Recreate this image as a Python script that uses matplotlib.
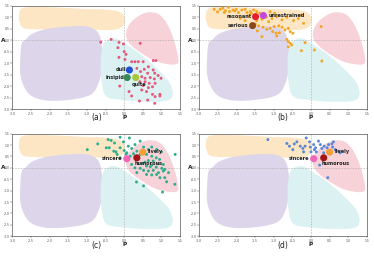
import numpy as np
import matplotlib
matplotlib.use("Agg")
import matplotlib.pyplot as plt
from matplotlib.patches import Polygon

# ---------------- blob outlines (data units) ----------------
orange_blob = [(-2.79, 1.31), (-2.62, 1.43), (-1.99, 1.43), (-1.09, 1.36), (-0.38, 1.31),
               (-0.07, 1.17), (0.02, 0.88), (-0.07, 0.56), (-0.38, 0.44), (-1.09, 0.47),
               (-1.99, 0.47), (-2.66, 0.51), (-2.81, 0.80), (-2.82, 1.09)]
purple_blob = [(-2.66, 0.0), (-2.44, 0.30), (-1.99, 0.51), (-1.27, 0.61), (-0.92, 0.56),
               (-0.69, 0.30), (-0.60, -0.29), (-0.60, -1.16), (-0.69, -1.88), (-0.92, -2.39),
               (-1.54, -2.61), (-2.17, -2.61), (-2.57, -2.32), (-2.78, -1.59), (-2.79, -0.72),
               (-2.75, -0.14)]
pink_blob = [(0.05, 0.30), (0.16, 0.73), (0.43, 1.09), (0.69, 1.21), (0.96, 1.09),
             (1.19, 0.59), (1.36, -0.14), (1.45, -0.79), (1.41, -1.04), (1.14, -1.04),
             (0.78, -0.87), (0.34, -0.43), (0.11, -0.07)]
cyan_blob = [(-0.51, -0.07), (-0.25, 0.08), (0.07, -0.21), (0.52, -0.72), (0.96, -1.37),
             (1.23, -1.88), (1.30, -2.39), (1.14, -2.64), (0.60, -2.68), (-0.02, -2.61),
             (-0.47, -2.46), (-0.60, -1.88), (-0.63, -1.01), (-0.60, -0.43)]

# ---------------- scatter data ----------------
a_x = [-0.63, -0.35, -0.14, -0.02, -0.17, 0.43, 0.00, 0.05, -0.14, 0.02, 0.20, 0.29, 0.38, 0.51,
       0.78, 0.85, 0.65, 0.34, 0.54, 0.78, 0.44, 0.63, 0.82, 0.91, 0.47, 0.56, 0.70, 0.81, 0.99,
       0.42, 0.56, 0.67, 0.83, 0.51, 0.65, 0.76, 0.47, 0.60, 0.76, 0.83, 0.96, 0.13, -0.12, 0.20,
       0.41, 0.63, 0.82, 0.96, 0.29]
a_y = [-0.09, 0.03, -0.10, -0.17, -0.33, -0.14, -0.50, -0.62, -0.75, -0.84, -0.94, -0.94, -0.94,
       -0.94, -0.89, -0.89, -1.16, -1.23, -1.27, -1.30, -1.37, -1.44, -1.44, -1.54, -1.59, -1.66,
       -1.63, -1.69, -1.66, -1.81, -1.81, -1.88, -1.88, -1.98, -2.07, -2.03, -2.17, -2.24, -2.36,
       -2.46, -2.36, -2.24, -2.00, -2.43, -2.65, -2.61, -2.75, -2.43, -1.54]

b_x = [-2.60, -2.51, -2.44, -2.37, -2.33, -2.22, -2.19, -2.10, -2.01, -1.95, -1.86, -1.77, -1.72,
       -1.63, -1.54, -1.46, -1.38, -1.68, -1.90, -1.77, -1.46, -1.32, -1.20, -1.14, -1.05, -0.98,
       -0.92, -0.78, -0.65, -0.47, -0.34, -0.20, -0.25, -1.50, -1.41, -1.44, -1.29, -1.19, -1.10,
       -0.99, -0.87, -0.78, -1.03, -0.94, -0.85, -0.70, -0.61, -0.56, -0.49, -1.32, -0.92, -0.65,
       -0.61, -0.56, -0.61, -0.52, -0.16, -0.26, 0.09, 0.29, 0.27, -2.30, -2.05, -1.60, -1.10]
b_y = [1.34, 1.23, 1.34, 1.39, 1.20, 1.43, 1.24, 1.31, 1.34, 1.20, 1.31, 1.34, 1.20, 1.24, 1.31,
       1.24, 1.17, 1.05, 0.95, 0.85, 0.85, 0.91, 1.00, 0.80, 0.94, 1.17, 1.02, 0.88, 0.99, 0.85,
       0.94, 0.73, 1.09, 0.70, 0.62, 0.40, 0.56, 0.47, 0.51, 0.59, 0.62, 0.56, 0.37, 0.30, 0.32,
       0.44, 0.51, 0.37, 0.30, 0.15, 0.18, 0.03, -0.07, -0.14, -0.29, -0.21, -0.11, -0.46, -0.43,
       -0.91, 0.59, 1.28, 1.27, 1.16, 1.23]

c_x = [-0.99, -0.71, -0.43, -0.35, -0.40, -0.26, -0.22, -0.11, -0.02, 0.14, 0.43, -0.11, 0.00,
       0.11, 0.20, 0.29, 0.34, 0.52, 0.65, 0.74, 0.87, 1.00, 1.37, 0.07, 0.16, 0.29, 0.43, 0.60,
       0.74, 0.86, 0.95, 0.65, 0.78, 0.92, 1.05, 0.47, 0.60, 0.74, 0.86, 1.01, 1.09, 0.43, 0.52,
       0.65, 0.78, 0.92, 1.05, 1.19, 0.60, 0.74, 0.87, 0.96, 1.09, 0.34, 0.20, 0.29, 1.14, 1.36,
       0.33, 0.52, 1.03, -0.11, -0.19, -0.28, -0.48, 0.05, 0.25, 0.38, 0.56, 0.70]
c_y = [0.80, 1.05, 1.24, 1.20, 0.88, 1.09, 0.70, 1.34, 1.14, 1.31, 1.17, 0.88, 0.76, 0.95, 0.85,
       1.02, 0.73, 0.91, 0.80, 0.91, 0.80, 0.70, 0.59, 0.66, 0.51, 0.51, 0.59, 0.59, 0.51, 0.44,
       0.37, 0.32, 0.30, 0.18, 0.15, 0.18, 0.08, 0.12, 0.03, -0.02, -0.07, -0.02, -0.11, -0.14,
       -0.11, -0.21, -0.14, -0.21, -0.29, -0.31, -0.29, -0.43, -0.43, -0.21, 0.15, 0.00, -0.61,
       -0.72, -0.62, -0.79, -1.06, 0.44, 0.59, 0.73, 0.88, 0.60, 0.62, 0.45, 0.25, 0.05]

d_x = [-1.16, -0.65, -0.58, -0.49, -0.45, -0.38, -0.29, -0.22, -0.20, -0.16, -0.13, -0.04, -0.02,
       0.00, 0.07, 0.09, 0.14, 0.20, 0.25, 0.29, 0.34, 0.43, 0.47, 0.56, 0.58, 0.65, 0.74, 0.78,
       0.60, 0.23, 0.45, 0.12, 0.35]
d_y = [1.24, 1.07, 0.95, 0.80, 1.05, 1.14, 0.95, 0.85, 0.70, 0.95, 1.31, 1.14, 0.91, 0.70, 1.02,
       0.80, 0.70, 1.17, 1.02, 0.85, 0.66, 0.88, 1.02, 1.05, 0.91, 0.80, 0.73, 0.66, 1.14, 0.12,
       -0.43, 0.88, 0.95]

# highlighted words: (label, x, y, color, text x, text y, ha)
a_words = [("dull", 0.14, -1.30, "#1f4fd6", 0.07, -1.30, "right"),
           ("insipid", 0.08, -1.63, "#3a8a55", 0.00, -1.63, "right"),
           ("quite", 0.31, -1.63, "#a8c83a", 0.19, -1.92, "left")]
b_words = [("resonant", -1.49, 1.02, "#e3202a", -1.58, 1.02, "right"),
           ("unrestrained", -1.28, 1.07, "#c048e0", -1.13, 1.09, "left"),
           ("serious", -1.57, 0.63, "#8b4a1c", -1.67, 0.63, "right")]
c_words = [("sincere", 0.07, 0.40, "#f266b8", -0.04, 0.40, "right"),
           ("humorous", 0.34, 0.44, "#a31414", 0.29, 0.21, "left"),
           ("lively", 0.50, 0.69, "#f5a030", 0.63, 0.72, "left")]
d_words = c_words

xticks = [-3.0, -2.5, -2.0, -1.5, -1.0, -0.5, 0.0, 0.5, 1.0, 1.5]
yticks = [-3.0, -2.5, -2.0, -1.5, -1.0, -0.5, 0.0, 0.5, 1.0, 1.5]


def catmull_rom(pts, n=20):
    p = np.asarray(pts, float)
    m = len(p)
    out = []
    for i in range(m):
        p0, p1, p2, p3 = p[(i - 1) % m], p[i], p[(i + 1) % m], p[(i + 2) % m]
        for t in np.linspace(0, 1, n, endpoint=False):
            t2, t3 = t * t, t * t * t
            out.append(0.5 * ((2 * p1) + (-p0 + p2) * t + (2 * p0 - 5 * p1 + 4 * p2 - p3) * t2
                              + (-p0 + 3 * p1 - 3 * p2 + p3) * t3))
    return np.array(out)


blobs = [(orange_blob, "#fde6c3"), (purple_blob, "#ddd6ea"),
         (pink_blob, "#f7d2d8"), (cyan_blob, "#dcf1f2")]

fig = plt.figure(figsize=(3.74, 2.56), dpi=100)
positions = [[0.0334, 0.574, 0.448, 0.404], [0.533, 0.574, 0.448, 0.404],
             [0.0334, 0.077, 0.448, 0.401], [0.533, 0.077, 0.448, 0.401]]
panels = [("(a)", a_x, a_y, "#e8587a", a_words),
          ("(b)", b_x, b_y, "#f5a524", b_words),
          ("(c)", c_x, c_y, "#2fae8c", c_words),
          ("(d)", d_x, d_y, "#5a88d6", d_words)]

for pos, (tag, xs, ys, col, words) in zip(positions, panels):
    ax = fig.add_axes(pos)
    for pts, fc in blobs:
        ax.add_patch(Polygon(catmull_rom(pts), closed=True, facecolor=fc,
                             edgecolor="none", zorder=1))
    ax.axvline(0, color="#aaaaaa", lw=0.4, ls=(0, (3, 2)), zorder=2)
    ax.axhline(0, color="#aaaaaa", lw=0.4, ls=(0, (3, 2)), zorder=2)
    ax.scatter(xs, ys, s=4.5, color=col, edgecolors="none", zorder=3)
    for lab, wx, wy, wc, tx, ty, ha in words:
        ax.scatter([wx], [wy], s=26, color=wc, edgecolors="none", zorder=4)
        ax.text(tx, ty, lab, fontsize=3.6, fontweight="bold", ha=ha, va="center",
                color="#222222", zorder=5)
    ax.set_xlim(-3.0, 1.5)
    ax.set_ylim(-3.0, 1.5)
    ax.set_xticks(xticks)
    ax.set_yticks(yticks)
    ax.set_xticklabels([f"{v:.1f}" for v in xticks])
    ax.set_yticklabels([f"{v:.1f}" for v in yticks])
    ax.tick_params(labelsize=2.2, length=1.2, width=0.3, pad=0.8, colors="#444444")
    for sp in ax.spines.values():
        sp.set_linewidth(0.5)
        sp.set_color("#555555")
    ax.text(0.0, -3.37, "P", fontsize=4.2, ha="center", va="center", color="#222222",
            fontweight="bold", clip_on=False)
    ax.text(-3.19, 0.0, "A", fontsize=4.2, ha="right", va="center", color="#222222",
            fontweight="bold", clip_on=False)
    ax.text(0.5, -0.085, tag, transform=ax.transAxes, fontsize=5.5, ha="center",
            va="center", color="#222222")

fig.savefig("out.png", dpi=100)
